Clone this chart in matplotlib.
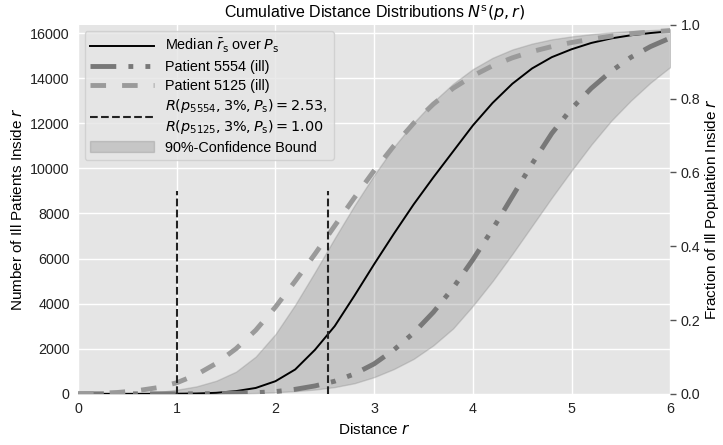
import numpy as np
import matplotlib
matplotlib.use('Agg')
import matplotlib.pyplot as plt

plt.rcParams['font.family'] = ['Liberation Sans', 'DejaVu Sans']
plt.rcParams['mathtext.fontset'] = 'dejavusans'

r = [0, 0.2, 0.4, 0.6, 0.8, 1.0, 1.2, 1.4, 1.6, 1.8, 2.0, 2.2, 2.4, 2.6, 2.8, 3.0,
     3.2, 3.4, 3.6, 3.8, 4.0, 4.2, 4.4, 4.6, 4.8, 5.0, 5.2, 5.4, 5.6, 5.8, 6.0]

median = [0, 0, 0, 0, 0, 5, 15, 45, 120, 260, 560, 1080, 1950, 3000, 4350, 5750,
          7100, 8400, 9600, 10750, 11900, 12900, 13750, 14430, 14930, 15280,
          15560, 15760, 15900, 16000, 16080]
p5554 = [0, 0, 0, 0, 0, 0, 0, 10, 25, 50, 100, 200, 350, 560, 880, 1330,
         1950, 2700, 3620, 4700, 5950, 7300, 8750, 10200, 11550, 12650,
         13550, 14300, 14920, 15400, 15780]
p5125 = [0, 20, 60, 140, 270, 491, 850, 1350, 2000, 2820, 3850, 5000, 6200, 7450, 8700, 9900,
         11000, 12000, 12850, 13550, 14100, 14550, 14900, 15180, 15400, 15580,
         15730, 15860, 15970, 16050, 16110]
band_hi = [0, 0, 5, 20, 70, 180, 330, 580, 980, 1650, 2650, 3950, 5400, 6900, 8350, 9700,
           10950, 12020, 12950, 13750, 14400, 14900, 15270, 15530, 15720, 15850,
           15950, 16030, 16090, 16130, 16170]
band_lo = [0, 0, 0, 0, 0, 0, 0, 5, 15, 35, 70, 120, 190, 300, 470, 740,
           1100, 1550, 2150, 2900, 3900, 5000, 6200, 7450, 8700, 9900,
           11050, 12100, 13000, 13800, 14490]

total_ill = 16360
r_thresh = [2.53, 1.00]
vline_top = 9000

fig = plt.figure(figsize=(7.23, 4.45), dpi=100)
ax = fig.add_axes([0.108, 0.115, 0.819, 0.829])
ax.set_facecolor('#E5E5E5')
ax.grid(True, color='white', lw=1.0)
ax.set_axisbelow(True)

ax.plot(r, median, color='black', lw=1.4, label=r'Median $\bar{r}_{\rm s}$ over $P_{\rm s}$')
ax.plot(r, p5554, color='#787878', lw=3.5, dashes=(5.3, 2.5, 1, 2.5, 1, 2.5),
        label='Patient 5554 (ill)')
ax.plot(r, p5125, color='#9a9a9a', lw=3.5, dashes=(3.2, 3.3),
        label='Patient 5125 (ill)')
ax.vlines(r_thresh, 0, vline_top, colors='#222222', linestyles='--', lw=1.5,
          label='$R(p_{5554}, 3\\%, P_{\\rm s}) = 2.53$,\n$R(p_{5125}, 3\\%, P_{\\rm s}) = 1.00$')
ax.fill_between(r, band_lo, band_hi, color='gray', alpha=0.3, lw=1,
                label='90%-Confidence Bound')

ax.set_xlim(0, 6)
ax.set_ylim(0, total_ill)
ax.set_yticks(range(0, 16001, 2000))
ax.tick_params(length=0, labelsize=10.3, colors='#222222', pad=6)
ax.set_xlabel('Distance $r$', fontsize=11)
ax.set_ylabel('Number of Ill Patients Inside $r$', fontsize=11)
ax.set_title(r'Cumulative Distance Distributions $N^{\rm s}(p, r)$', fontsize=11.5, pad=5)
for s in ax.spines.values():
    s.set_visible(False)

ax2 = ax.twinx()
ax2.set_ylim(0, 1)
ax2.set_yticks([0, 0.2, 0.4, 0.6, 0.8, 1.0])
ax2.tick_params(length=4, width=1, color='#555555', labelsize=10.3, labelcolor='#222222')
ax2.set_ylabel('Fraction of Ill Population Inside $r$', fontsize=11, labelpad=2)
for s in ax2.spines.values():
    s.set_visible(False)

leg = ax.legend(loc='upper left', fontsize=10.4, facecolor='#E5E5E5', edgecolor='#cccccc',
                framealpha=0.8, handlelength=4.4, labelspacing=0.32, borderaxespad=0.45)

fig.savefig('out.png', dpi=100)
